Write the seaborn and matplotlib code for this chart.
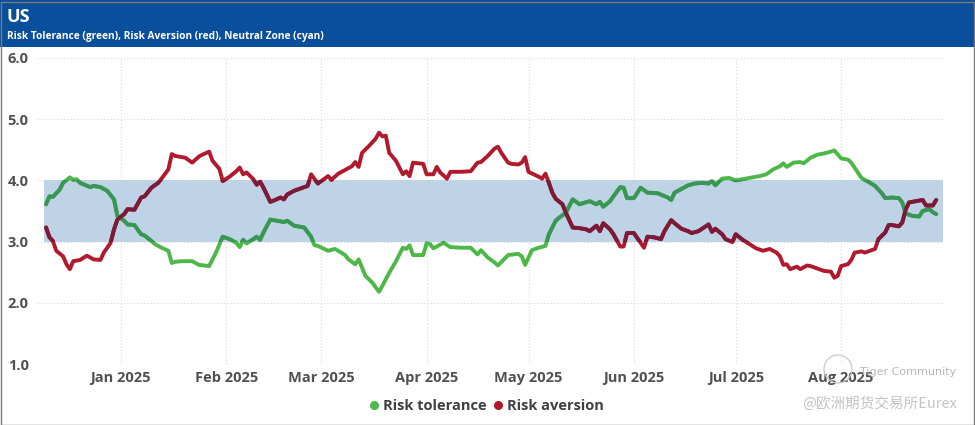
import matplotlib
matplotlib.use("Agg")
import matplotlib.pyplot as plt
import matplotlib.dates as mdates
from matplotlib.patches import Rectangle, Circle
from matplotlib.lines import Line2D
import pandas as pd
import seaborn as sns

# ---------------- data ----------------
tol_dates = [
    "2024-12-10", "2024-12-11", "2024-12-12", "2024-12-14", "2024-12-15", "2024-12-17",
    "2024-12-18", "2024-12-19", "2024-12-20", "2024-12-23", "2024-12-24", "2024-12-26",
    "2024-12-28", "2024-12-30", "2024-12-31", "2025-01-02", "2025-01-03", "2025-01-05",
    "2025-01-07", "2025-01-08", "2025-01-10", "2025-01-11", "2025-01-13", "2025-01-15",
    "2025-01-16", "2025-01-17", "2025-01-19", "2025-01-22", "2025-01-24", "2025-01-27",
    "2025-01-29", "2025-01-31", "2025-02-02", "2025-02-04", "2025-02-05", "2025-02-06",
    "2025-02-07", "2025-02-09", "2025-02-10", "2025-02-11", "2025-02-12", "2025-02-14",
    "2025-02-15", "2025-02-18", "2025-02-19", "2025-02-21", "2025-02-24", "2025-02-26",
    "2025-02-27", "2025-02-28", "2025-03-03", "2025-03-05", "2025-03-06", "2025-03-08",
    "2025-03-09", "2025-03-11", "2025-03-12", "2025-03-14", "2025-03-16", "2025-03-18",
    "2025-03-19", "2025-03-21", "2025-03-23", "2025-03-25", "2025-03-26", "2025-03-27",
    "2025-03-28", "2025-03-31", "2025-04-01", "2025-04-02", "2025-04-03", "2025-04-06",
    "2025-04-08", "2025-04-11", "2025-04-14", "2025-04-16", "2025-04-17", "2025-04-19",
    "2025-04-21", "2025-04-22", "2025-04-25", "2025-04-28", "2025-04-29", "2025-04-30",
    "2025-05-02", "2025-05-04", "2025-05-06", "2025-05-07", "2025-05-09", "2025-05-10",
    "2025-05-12", "2025-05-14", "2025-05-16", "2025-05-19", "2025-05-21", "2025-05-22",
    "2025-05-23", "2025-05-25", "2025-05-26", "2025-05-28", "2025-05-29", "2025-05-30",
    "2025-06-01", "2025-06-03", "2025-06-05", "2025-06-08", "2025-06-11", "2025-06-12",
    "2025-06-13", "2025-06-15", "2025-06-17", "2025-06-19", "2025-06-21", "2025-06-23",
    "2025-06-24", "2025-06-25", "2025-06-27", "2025-06-29", "2025-07-01", "2025-07-04",
    "2025-07-08", "2025-07-10", "2025-07-12", "2025-07-14", "2025-07-15", "2025-07-16",
    "2025-07-18", "2025-07-20", "2025-07-21", "2025-07-23", "2025-07-25", "2025-07-27",
    "2025-07-29", "2025-07-30", "2025-08-01", "2025-08-03", "2025-08-04", "2025-08-07",
    "2025-08-09", "2025-08-11", "2025-08-13", "2025-08-14", "2025-08-16", "2025-08-18",
    "2025-08-19", "2025-08-20", "2025-08-22", "2025-08-24", "2025-08-25", "2025-08-27",
    "2025-08-28", "2025-08-29",
]
tol_values = [
    3.61, 3.74, 3.73, 3.85, 3.96, 4.05, 4.01, 4.02, 3.96, 3.89, 3.91, 3.89,
    3.83, 3.69, 3.42, 3.34, 3.28, 3.27, 3.12, 3.10, 3.01, 2.96, 2.90, 2.85,
    2.65, 2.67, 2.68, 2.68, 2.62, 2.60, 2.82, 3.08, 3.04, 2.98, 2.91, 3.03,
    2.97, 3.04, 3.08, 3.03, 3.15, 3.36, 3.35, 3.32, 3.34, 3.26, 3.23, 3.08,
    2.94, 2.93, 2.85, 2.88, 2.85, 2.78, 2.71, 2.63, 2.71, 2.44, 2.33, 2.18,
    2.28, 2.49, 2.68, 2.90, 2.88, 2.94, 2.78, 2.78, 2.97, 2.96, 2.89, 2.98,
    2.91, 2.90, 2.90, 2.79, 2.86, 2.74, 2.66, 2.61, 2.78, 2.80, 2.76, 2.62,
    2.86, 2.90, 2.93, 3.12, 3.34, 3.39, 3.47, 3.69, 3.61, 3.66, 3.61, 3.65,
    3.57, 3.66, 3.74, 3.89, 3.88, 3.71, 3.71, 3.88, 3.80, 3.79, 3.72, 3.68,
    3.80, 3.86, 3.92, 3.95, 3.96, 3.95, 3.99, 3.92, 4.03, 4.04, 4.00, 4.03,
    4.07, 4.10, 4.18, 4.23, 4.28, 4.22, 4.29, 4.30, 4.28, 4.37, 4.42, 4.44,
    4.47, 4.49, 4.36, 4.34, 4.29, 4.04, 3.98, 3.91, 3.79, 3.71, 3.72, 3.71,
    3.64, 3.46, 3.42, 3.41, 3.50, 3.53, 3.48, 3.45,
]

av_dates = [
    "2024-12-10", "2024-12-11", "2024-12-12", "2024-12-13", "2024-12-15", "2024-12-16",
    "2024-12-17", "2024-12-18", "2024-12-20", "2024-12-22", "2024-12-24", "2024-12-26",
    "2024-12-27", "2024-12-29", "2024-12-30", "2024-12-31", "2025-01-02", "2025-01-03",
    "2025-01-05", "2025-01-07", "2025-01-08", "2025-01-10", "2025-01-12", "2025-01-13",
    "2025-01-15", "2025-01-16", "2025-01-17", "2025-01-20", "2025-01-22", "2025-01-24",
    "2025-01-25", "2025-01-27", "2025-01-28", "2025-01-30", "2025-01-31", "2025-02-02",
    "2025-02-04", "2025-02-05", "2025-02-06", "2025-02-07", "2025-02-09", "2025-02-10",
    "2025-02-11", "2025-02-12", "2025-02-14", "2025-02-15", "2025-02-17", "2025-02-18",
    "2025-02-19", "2025-02-21", "2025-02-23", "2025-02-25", "2025-02-26", "2025-02-28",
    "2025-03-02", "2025-03-03", "2025-03-04", "2025-03-06", "2025-03-08", "2025-03-10",
    "2025-03-11", "2025-03-12", "2025-03-13", "2025-03-15", "2025-03-17", "2025-03-18",
    "2025-03-19", "2025-03-20", "2025-03-21", "2025-03-23", "2025-03-24", "2025-03-25",
    "2025-03-26", "2025-03-27", "2025-03-28", "2025-03-31", "2025-04-01", "2025-04-03",
    "2025-04-04", "2025-04-05", "2025-04-07", "2025-04-08", "2025-04-11", "2025-04-14",
    "2025-04-16", "2025-04-17", "2025-04-19", "2025-04-21", "2025-04-22", "2025-04-23",
    "2025-04-25", "2025-04-26", "2025-04-28", "2025-04-29", "2025-04-30", "2025-05-01",
    "2025-05-04", "2025-05-05", "2025-05-06", "2025-05-07", "2025-05-08", "2025-05-09",
    "2025-05-11", "2025-05-12", "2025-05-14", "2025-05-16", "2025-05-18", "2025-05-19",
    "2025-05-21", "2025-05-22", "2025-05-23", "2025-05-25", "2025-05-26", "2025-05-28",
    "2025-05-29", "2025-05-30", "2025-06-01", "2025-06-04", "2025-06-05", "2025-06-07",
    "2025-06-09", "2025-06-10", "2025-06-12", "2025-06-13", "2025-06-15", "2025-06-17",
    "2025-06-18", "2025-06-20", "2025-06-23", "2025-06-24", "2025-06-25", "2025-06-27",
    "2025-06-28", "2025-06-30", "2025-07-01", "2025-07-03", "2025-07-05", "2025-07-07",
    "2025-07-09", "2025-07-11", "2025-07-13", "2025-07-14", "2025-07-15", "2025-07-16",
    "2025-07-17", "2025-07-19", "2025-07-20", "2025-07-22", "2025-07-23", "2025-07-25",
    "2025-07-27", "2025-07-29", "2025-07-30", "2025-07-31", "2025-08-01", "2025-08-03",
    "2025-08-04", "2025-08-05", "2025-08-07", "2025-08-08", "2025-08-11", "2025-08-12",
    "2025-08-14", "2025-08-15", "2025-08-16", "2025-08-18", "2025-08-19", "2025-08-20",
    "2025-08-21", "2025-08-23", "2025-08-25", "2025-08-26", "2025-08-28", "2025-08-29",
]
av_values = [
    3.23, 3.07, 3.01, 2.85, 2.76, 2.63, 2.55, 2.68, 2.70, 2.77, 2.71, 2.70,
    2.82, 2.98, 3.20, 3.36, 3.45, 3.53, 3.52, 3.72, 3.74, 3.88, 3.96, 4.03,
    4.18, 4.43, 4.40, 4.37, 4.29, 4.39, 4.42, 4.47, 4.32, 4.19, 3.99, 4.06,
    4.15, 4.21, 4.10, 4.13, 4.02, 3.93, 3.98, 3.88, 3.65, 3.67, 3.72, 3.69,
    3.77, 3.83, 3.87, 3.91, 4.10, 3.95, 4.03, 4.07, 4.01, 4.11, 4.17, 4.23,
    4.30, 4.22, 4.45, 4.56, 4.68, 4.78, 4.72, 4.73, 4.45, 4.32, 4.21, 4.10,
    4.15, 4.07, 4.29, 4.27, 4.10, 4.10, 4.22, 4.13, 4.03, 4.14, 4.14, 4.15,
    4.29, 4.30, 4.40, 4.52, 4.55, 4.45, 4.29, 4.27, 4.26, 4.29, 4.38, 4.14,
    4.06, 4.03, 4.11, 3.96, 3.80, 3.70, 3.61, 3.47, 3.23, 3.22, 3.20, 3.17,
    3.26, 3.17, 3.30, 3.20, 3.12, 2.92, 2.92, 3.14, 3.14, 2.90, 3.08, 3.07,
    3.04, 3.17, 3.35, 3.30, 3.21, 3.17, 3.14, 3.17, 3.28, 3.16, 3.21, 3.12,
    3.04, 2.99, 3.12, 3.03, 2.96, 2.89, 2.85, 2.88, 2.82, 2.76, 2.62, 2.63,
    2.55, 2.59, 2.55, 2.61, 2.60, 2.56, 2.52, 2.51, 2.41, 2.44, 2.60, 2.63,
    2.70, 2.82, 2.84, 2.82, 2.88, 3.04, 3.15, 3.27, 3.27, 3.25, 3.31, 3.52,
    3.64, 3.66, 3.68, 3.59, 3.59, 3.68,
]

neutral_low, neutral_high = 3.0, 4.0
y_ticks = [1.0, 2.0, 3.0, 4.0, 5.0, 6.0]
series_names = ["Risk tolerance", "Risk aversion"]
title = "US"
subtitle = "Risk Tolerance (green), Risk Aversion (red), Neutral Zone (cyan)"

# ---------------- style ----------------
sns.set_theme(style="white")
plt.rcParams["font.family"] = ["Open Sans", "Noto Sans CJK SC", "DejaVu Sans"]

GREEN = "#4db848"
GREEN_IN = "#3a9656"
RED = "#b1192c"
RED_IN = "#7a1b3a"
BAND = "#bfd3e6"
HEADER = "#0a4f9c"

tol = pd.DataFrame({"date": pd.to_datetime(tol_dates), "value": tol_values})
av = pd.DataFrame({"date": pd.to_datetime(av_dates), "value": av_values})

fig = plt.figure(figsize=(9.75, 4.25), dpi=100)
W, H = 975, 425
ax = fig.add_axes([37 / W, 1 - 364 / H, (943 - 37) / W, (364 - 58) / H])

x_left = pd.Timestamp("2024-12-07 08:00")
x_right = pd.Timestamp("2025-08-31 00:00")
band_start = pd.Timestamp("2024-12-09 06:00")

# neutral band
band = Rectangle((mdates.date2num(band_start), neutral_low),
                 mdates.date2num(x_right) - mdates.date2num(band_start),
                 neutral_high - neutral_low,
                 facecolor=BAND, edgecolor="none", zorder=1)
ax.add_patch(band)

lw = 2.8
sns.lineplot(data=tol, x="date", y="value", ax=ax, color=GREEN, linewidth=lw, zorder=3)
sns.lineplot(data=av, x="date", y="value", ax=ax, color=RED, linewidth=lw, zorder=3)
# darker shade where lines cross the neutral zone
sns.lineplot(data=tol, x="date", y="value", ax=ax, color=GREEN_IN, linewidth=lw, zorder=4)
sns.lineplot(data=av, x="date", y="value", ax=ax, color=RED_IN, linewidth=lw, zorder=4)
clip_rect = Rectangle((mdates.date2num(band_start), neutral_low),
                      mdates.date2num(x_right) - mdates.date2num(band_start),
                      neutral_high - neutral_low, transform=ax.transData)
for ln in ax.get_lines()[2:4]:
    ln.set_clip_path(clip_rect)
for ln in ax.get_lines():
    ln.set_solid_capstyle("round")
    ln.set_solid_joinstyle("round")

ax.set_xlim(x_left, x_right)
ax.set_ylim(1.0, 6.0)
ax.set_yticks(y_ticks)
ax.set_yticklabels([f"{v:.1f}" for v in y_ticks])
ax.xaxis.set_major_locator(mdates.MonthLocator())
ax.xaxis.set_major_formatter(mdates.DateFormatter("%b %Y"))
ax.set_xlabel("")
ax.set_ylabel("")
ax.grid(True, linestyle=(0, (1, 2)), color="#d9d9d9", linewidth=0.8)
ax.set_axisbelow(True)
for s in ax.spines.values():
    s.set_visible(False)
ax.tick_params(axis="both", length=0, labelsize=10.5, colors="#505050")
ax.tick_params(axis="x", pad=5)
ax.tick_params(axis="y", pad=6)
for lab in ax.get_xticklabels() + ax.get_yticklabels():
    lab.set_fontweight("bold")

# legend
handles = [
    Line2D([], [], marker="o", linestyle="none", markersize=5.5, color=GREEN),
    Line2D([], [], marker="o", linestyle="none", markersize=5.5, color=RED),
]
leg = fig.legend(handles, series_names, loc="center", bbox_to_anchor=(487 / W, 1 - 406 / H),
                 ncol=2, frameon=False, handlelength=0.6, handletextpad=0.3,
                 columnspacing=0.5, prop={"weight": "bold", "size": 10.5})
for t in leg.get_texts():
    t.set_color("#404040")

# header
fig.patches.append(Rectangle((0, 1 - 47 / H), 1, 47 / H, transform=fig.transFigure,
                             facecolor=HEADER, edgecolor="none", zorder=0))
fig.text(7 / W, 1 - 17 / H, title, color="white", fontsize=13, fontweight="bold",
         va="center", ha="left")
fig.text(7 / W, 1 - 37 / H, subtitle, color="white", fontsize=7.3, fontweight="bold",
         va="center", ha="left")
# frame
fig.patches.append(Rectangle((0.5 / W, 0.5 / H), 1 - 2 / W, 1 - 2 / H, transform=fig.transFigure,
                             facecolor="none", edgecolor="#7a7a7a", linewidth=1.0, zorder=5))

# watermark
fig.patches.append(Circle((8.38, (H - 369) / 100), 0.14, transform=fig.dpi_scale_trans,
                          facecolor="none", edgecolor="#c8c8c8", linewidth=0.9, zorder=6))
fig.text(860 / W, 1 - 372 / H, "Tiger Community", color="#b8b8b8", fontsize=8,
         va="center", ha="left", family=["DejaVu Sans"])
fig.text(957 / W, 1 - 404 / H, "@欧洲期货交易所Eurex", color="#c4c4c4", fontsize=10.5,
         va="center", ha="right", family=["Noto Sans CJK SC", "DejaVu Sans"])

fig.savefig("out.png", dpi=100)
